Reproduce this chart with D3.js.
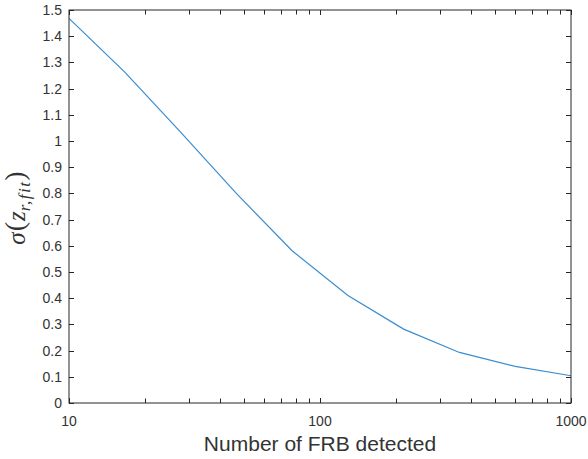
<!DOCTYPE html>
<html>
<head>
<meta charset="utf-8">
<script src="https://cdn.jsdelivr.net/npm/d3@7"></script>
<style>
  body { margin: 0; background: #fff; }
  svg text { font-family: "Liberation Sans", Arial, sans-serif; fill: #333; }
</style>
</head>
<body>
<div id="chart"></div>
<script>
// Values (logspace(1,3,10) detections)
var nDetected = [10, 16.68, 27.83, 46.42, 77.43, 129.2, 215.4, 359.4, 599.5, 1000];
var sigmaZ = [1.468, 1.263, 1.034, 0.80, 0.581, 0.41, 0.282, 0.193, 0.14, 0.104];
var xMajorTicks = [10, 100, 1000];
var xMinorTicks = [20, 30, 40, 50, 60, 70, 80, 90, 200, 300, 400, 500, 600, 700, 800, 900];
var yTicks = [0, 0.1, 0.2, 0.3, 0.4, 0.5, 0.6, 0.7, 0.8, 0.9, 1, 1.1, 1.2, 1.3, 1.4, 1.5];

var W = 588, H = 459;
var margin = { top: 10, right: 17, bottom: 56, left: 69 },
    width = W - margin.left - margin.right,
    height = H - margin.top - margin.bottom;

var svg = d3.select("#chart").append("svg")
    .attr("width", W)
    .attr("height", H);

var g = svg.append("g")
    .attr("transform", "translate(" + margin.left + "," + margin.top + ")");

var x = d3.scaleLog().domain([10, 1000]).range([0, width]);
var y = d3.scaleLinear().domain([0, 1.5]).range([height, 0]);

var axisColor = "#262626";

// the data line
var line = d3.line()
    .x(function(d, i) { return x(nDetected[i]); })
    .y(function(d) { return y(d); });

g.append("path")
    .datum(sigmaZ)
    .attr("d", line)
    .attr("fill", "none")
    .attr("stroke", "#3a8dd0")
    .attr("stroke-width", 1.2);

// box
g.append("rect")
    .attr("x", 0).attr("y", 0)
    .attr("width", width).attr("height", height)
    .attr("fill", "none")
    .attr("stroke", axisColor)
    .attr("stroke-width", 1);

// x ticks (inward, bottom and top)
var xt = xMajorTicks.concat(xMinorTicks);
[height, 0].forEach(function(y0) {
    var dir = y0 === 0 ? 1 : -1;
    g.selectAll(null).data(xt).enter().append("line")
        .attr("x1", function(d) { return Math.round(x(d)) + 0.5; })
        .attr("x2", function(d) { return Math.round(x(d)) + 0.5; })
        .attr("y1", y0)
        .attr("y2", function(d) { return y0 + dir * (xMajorTicks.indexOf(d) >= 0 ? 5 : 4.5); })
        .attr("stroke", axisColor);
});

g.selectAll(".xlab").data(xMajorTicks).enter().append("text")
    .attr("class", "xlab")
    .attr("x", function(d) { return x(d); })
    .attr("y", height + 23)
    .attr("text-anchor", "middle")
    .style("font-size", "14px")
    .text(function(d) { return d; });

// y ticks (inward, left and right)
[0, width].forEach(function(x0) {
    var dir = x0 === 0 ? 1 : -1;
    g.selectAll(null).data(yTicks).enter().append("line")
        .attr("x1", x0)
        .attr("x2", x0 + dir * 5)
        .attr("y1", function(d) { return Math.round(y(d)) + 0.5; })
        .attr("y2", function(d) { return Math.round(y(d)) + 0.5; })
        .attr("stroke", axisColor);
});

g.selectAll(".ylab").data(yTicks).enter().append("text")
    .attr("class", "ylab")
    .attr("x", -7)
    .attr("y", function(d) { return y(d); })
    .attr("dy", "0.35em")
    .attr("text-anchor", "end")
    .style("font-size", "14px")
    .text(function(d) { return d3.format("~g")(d); });

// axis labels
svg.append("text")
    .attr("x", margin.left + width / 2)
    .attr("y", 451)
    .attr("text-anchor", "middle")
    .style("font-size", "21px")
    .text("Number of FRB detected");

var yl = svg.append("text")
    .attr("transform", "translate(25,208) rotate(-90)")
    .attr("text-anchor", "middle")
    .style("font-family", "'Liberation Serif', 'DejaVu Serif', serif")
    .style("font-size", "25px");
yl.append("tspan").style("font-style", "italic").text("σ");
yl.append("tspan").style("font-size", "28px").attr("dx", "1").attr("dy", "-1").text("(");
yl.append("tspan").style("font-style", "italic").attr("dx", "1").attr("dy", "1").text("z");
yl.append("tspan").style("font-style", "italic").style("font-size", "17px")
    .style("letter-spacing", "1.5px")
    .attr("dy", "5").text("r,fit");
yl.append("tspan").style("font-size", "28px").attr("dy", "-6").text(")");
</script>
</body>
</html>
